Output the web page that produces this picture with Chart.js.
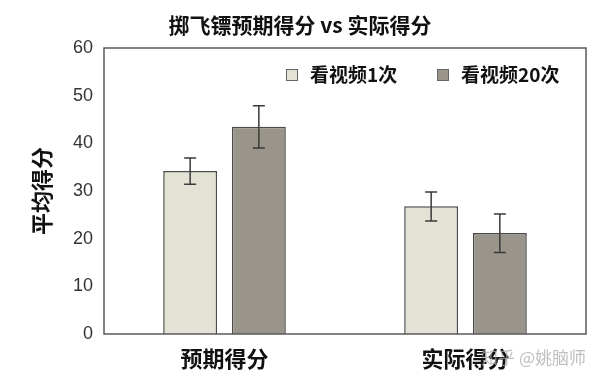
<!DOCTYPE html>
<html>
<head>
<meta charset="utf-8">
<script src="https://cdn.jsdelivr.net/npm/chart.js@4"></script>
<style>
  html, body { margin: 0; padding: 0; background: #ffffff; }
  #wrap { width: 600px; height: 383px; position: relative; }
</style>
</head>
<body>
<div id="wrap"><canvas id="dartChart"></canvas></div>
<script>
const categories = ["预期得分", "实际得分"];
const seriesNames = ["看视频1次", "看视频20次"];
const onceValues = [34.2, 26.8];
const twentyValues = [43.5, 21.2];
// error bar lower / upper ends
const onceLow = [31.4, 23.7];
const onceHigh = [36.9, 29.8];
const twentyLow = [39.0, 17.1];
const twentyHigh = [47.9, 25.2];
const yTicks = [0, 10, 20, 30, 40, 50, 60];

const CJK = '"Noto Sans CJK SC", "Noto Sans", sans-serif';

const errorBars = {
  id: "errorBars",
  afterDatasetsDraw(chart) {
    const ctx = chart.ctx;
    const y = chart.scales.y;
    const ranges = [[onceLow, onceHigh], [twentyLow, twentyHigh]];
    ctx.save();
    ctx.strokeStyle = "#3a3a3a";
    ctx.lineWidth = 1.5;
    ranges.forEach((r, di) => {
      chart.getDatasetMeta(di).data.forEach((bar, i) => {
        const x = bar.x;
        const yl = y.getPixelForValue(r[0][i]);
        const yh = y.getPixelForValue(r[1][i]);
        ctx.beginPath();
        ctx.moveTo(x, yl); ctx.lineTo(x, yh);
        ctx.moveTo(x - 6, yl); ctx.lineTo(x + 6, yl);
        ctx.moveTo(x - 6, yh); ctx.lineTo(x + 6, yh);
        ctx.stroke();
      });
    });
    ctx.restore();
  }
};

const frameAndText = {
  id: "frameAndText",
  afterDraw(chart) {
    const ctx = chart.ctx;
    const a = chart.chartArea;
    ctx.save();
    // plot frame
    ctx.strokeStyle = "#5a5a5a";
    ctx.lineWidth = 1.5;
    ctx.strokeRect(a.left, a.top, a.right - a.left, a.bottom - a.top);

    // title
    ctx.fillStyle = "#111";
    ctx.font = "bold 21px " + CJK;
    ctx.textAlign = "center";
    ctx.textBaseline = "middle";
    ctx.fillText("掷飞镖预期得分 vs 实际得分", 300, 25);

    // legend inside plot
    const items = [
      { x: 286, label: seriesNames[0], color: chart.data.datasets[0].backgroundColor },
      { x: 437, label: seriesNames[1], color: chart.data.datasets[1].backgroundColor }
    ];
    ctx.textAlign = "left";
    ctx.font = "bold 19px " + CJK;
    items.forEach(it => {
      ctx.fillStyle = it.color;
      ctx.fillRect(it.x, 69, 11, 11);
      ctx.strokeStyle = "#666";
      ctx.lineWidth = 1;
      ctx.strokeRect(it.x + 0.5, 69.5, 11, 11);
      ctx.fillStyle = "#111";
      ctx.fillText(it.label, it.x + 24, 75);
    });

    // watermark
    ctx.font = "17px " + CJK;
    ctx.fillStyle = "rgba(170,170,170,0.75)";
    ctx.textAlign = "right";
    ctx.fillText("知乎 @姚脑师", 586, 358);
    ctx.restore();
  }
};

new Chart(document.getElementById("dartChart"), {
  type: "bar",
  data: {
    labels: categories,
    datasets: [
      {
        label: seriesNames[0],
        data: onceValues,
        backgroundColor: "#e4e1d5",
        borderColor: "#4a4a4a",
        borderWidth: 1.5
      },
      {
        label: seriesNames[1],
        data: twentyValues,
        backgroundColor: "#9a958a",
        borderColor: "#4a4a4a",
        borderWidth: 1.5
      }
    ]
  },
  options: {
    responsive: true,
    maintainAspectRatio: false,
    animation: false,
    devicePixelRatio: 1,
    categoryPercentage: 0.57,
    barPercentage: 0.785,
    layout: { padding: { left: 0, right: 14, top: 48, bottom: 0 } },
    scales: {
      x: {
        grid: { display: false, drawTicks: false },
        border: { display: false },
        ticks: {
          color: "#111",
          padding: 11,
          font: { family: CJK, size: 22, weight: "bold" }
        },
        afterFit(scale) { scale.height = 49; }
      },
      y: {
        min: 0,
        max: 60,
        grid: { display: false, drawTicks: false },
        border: { display: false },
        afterBuildTicks(scale) { scale.ticks = yTicks.map(v => ({ value: v })); },
        ticks: {
          color: "#333",
          padding: 11,
          font: { family: '"Liberation Sans", Arial, sans-serif', size: 18 }
        },
        title: {
          display: true,
          text: "平均得分",
          color: "#111",
          padding: { top: 28, bottom: 0 },
          font: { family: CJK, size: 22, weight: "bold" }
        },
        afterFit(scale) { scale.width = 104; }
      }
    },
    plugins: {
      legend: { display: false },
      title: { display: false },
      tooltip: { enabled: false }
    }
  },
  plugins: [errorBars, frameAndText]
});
</script>
</body>
</html>
